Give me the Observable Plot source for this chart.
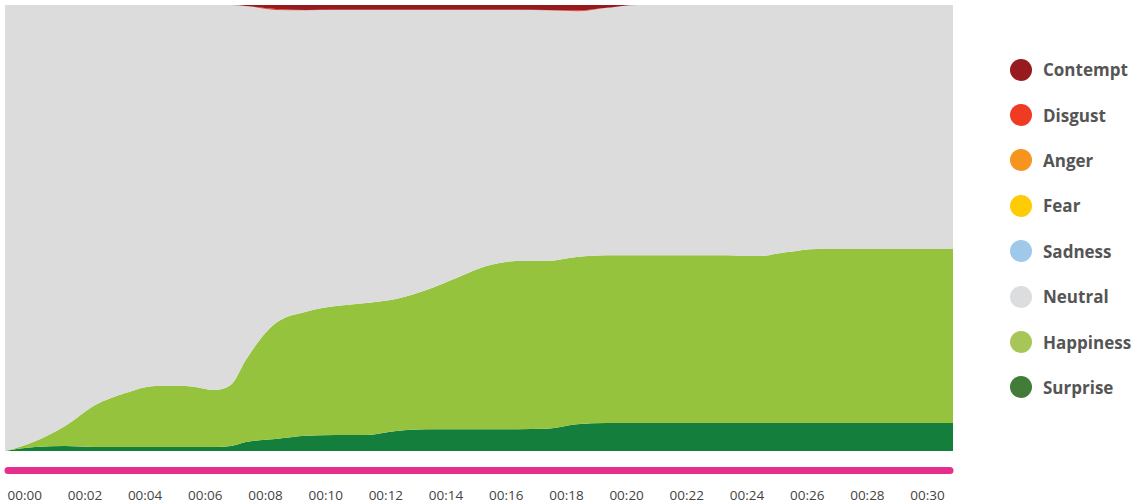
<!DOCTYPE html>
<html>
<head>
<meta charset="utf-8">
<script src="https://cdn.jsdelivr.net/npm/d3@7"></script>
<script src="https://cdn.jsdelivr.net/npm/@observablehq/plot@0.6"></script>
<style>
  html, body { margin: 0; padding: 0; background: #fff; }
  #wrap { position: relative; width: 1141px; height: 504px; }
  #legend { position: absolute; left: 1010px; top: 47px; font-family: "Open Sans", sans-serif; font-weight: 700; font-size: 17px; color: #555; }
  .item { display: flex; align-items: center; height: 45.4px; }
  .sw { width: 22px; height: 22px; border-radius: 50%; margin-right: 11px; flex: none; }
</style>
</head>
<body>
<div id="wrap"><div id="chart"></div><div id="legend"></div></div>
<script>
// time in seconds
const times = [0,1,2,3,4,5,6,7,7.5,8,9,10,11,12,13,14,15,16,17,18,19,20,21,22,23,24,25,26,27,28,29,30,31,31.5];

// emotion shares (stacked bottom to top)
const surprise  = [0,0.009,0.011,0.009,0.009,0.009,0.009,0.009,0.011,0.02,0.027,0.034,0.036,0.036,0.045,0.049,0.049,0.049,0.049,0.05,0.06,0.063,0.063,0.063,0.063,0.063,0.063,0.063,0.063,0.063,0.063,0.063,0.063,0.063];
const happiness = [0,0.013,0.045,0.094,0.121,0.137,0.137,0.128,0.137,0.184,0.26,0.278,0.289,0.296,0.296,0.312,0.339,0.366,0.377,0.376,0.375,0.376,0.376,0.376,0.376,0.376,0.374,0.383,0.39,0.39,0.39,0.39,0.39,0.39];
const neutral   = [1,0.978,0.944,0.897,0.87,0.854,0.854,0.863,0.852,0.794,0.702,0.676,0.665,0.658,0.649,0.629,0.602,0.575,0.564,0.562,0.551,0.555,0.561,0.561,0.561,0.561,0.563,0.554,0.547,0.547,0.547,0.547,0.547,0.547];
const sadness   = [0,0,0,0,0,0,0,0,0,0,0,0,0,0,0,0,0,0,0,0,0,0,0,0,0,0,0,0,0,0,0,0,0,0];
const fear      = [0,0,0,0,0,0,0,0,0,0,0,0,0,0,0,0,0,0,0,0,0,0,0,0,0,0,0,0,0,0,0,0,0,0];
const anger     = [0,0,0,0,0,0,0,0,0,0,0,0,0,0,0,0,0,0,0,0,0,0,0,0,0,0,0,0,0,0,0,0,0,0];
const disgust   = [0,0,0,0,0,0,0,0,0,0,0.002,0.001,0,0,0,0,0,0,0,0.001,0.002,0,0,0,0,0,0,0,0,0,0,0,0,0];
const contempt  = [0,0,0,0,0,0,0,0,0,0.002,0.009,0.011,0.0105,0.0105,0.0105,0.0105,0.0105,0.0105,0.0105,0.011,0.012,0.006,0,0,0,0,0,0,0,0,0,0,0,0];

const emotions = ["Surprise","Happiness","Neutral","Sadness","Fear","Anger","Disgust","Contempt"];
const seriesValues = [surprise, happiness, neutral, sadness, fear, anger, disgust, contempt];
const areaColors   = ["#147f3d","#95c33e","#dcdcdc","#9fc9eb","#ffcb05","#f7941d","#ef3b24","#961a1e"];
const legendColors = ["#437c38","#a8c657","#dcdddf","#9fc9eb","#ffcb05","#f7941d","#ef3b24","#961a1e"];

const tickTimes  = [0,2,4,6,8,10,12,14,16,18,20,22,24,26,28,30];
const tickLabels = ["00:00","00:02","00:04","00:06","00:08","00:10","00:12","00:14","00:16","00:18","00:20","00:22","00:24","00:26","00:28","00:30"];

const table = [];
emotions.forEach((e, i) => times.forEach((t, j) => table.push({time: t, emotion: e, value: seriesValues[i][j]})));
const ticks = tickTimes.map((t, i) => ({time: t, label: tickLabels[i]}));

const chart = Plot.plot({
  width: 1141,
  height: 504,
  marginLeft: 5,
  marginRight: 188,
  marginTop: 5,
  marginBottom: 53,
  x: {domain: [0, 31.5], axis: null},
  y: {domain: [0, 1], axis: null},
  color: {domain: emotions, range: areaColors},
  style: {fontFamily: "'Open Sans', sans-serif", background: "#fff"},
  marks: [
    Plot.areaY(table, {x: "time", y: "value", fill: "emotion", offset: "normalize", curve: "monotone-x"}),
    Plot.ruleY([0], {x1: 0.1, x2: 31.4, dy: 19, stroke: "#e62e8c", strokeWidth: 7, strokeLinecap: "round"}),
    Plot.text(ticks, {x: "time", y: 0, text: "label", dy: 44, dx: 2, textAnchor: "start", fontSize: 13.5, fill: "#444"})
  ]
});
document.getElementById("chart").appendChild(chart);

const legend = document.getElementById("legend");
for (let i = emotions.length - 1; i >= 0; i--) {
  const row = document.createElement("div");
  row.className = "item";
  const sw = document.createElement("span");
  sw.className = "sw";
  sw.style.background = legendColors[i];
  const lab = document.createElement("span");
  lab.textContent = emotions[i];
  row.appendChild(sw); row.appendChild(lab);
  legend.appendChild(row);
}
</script>
</body>
</html>
